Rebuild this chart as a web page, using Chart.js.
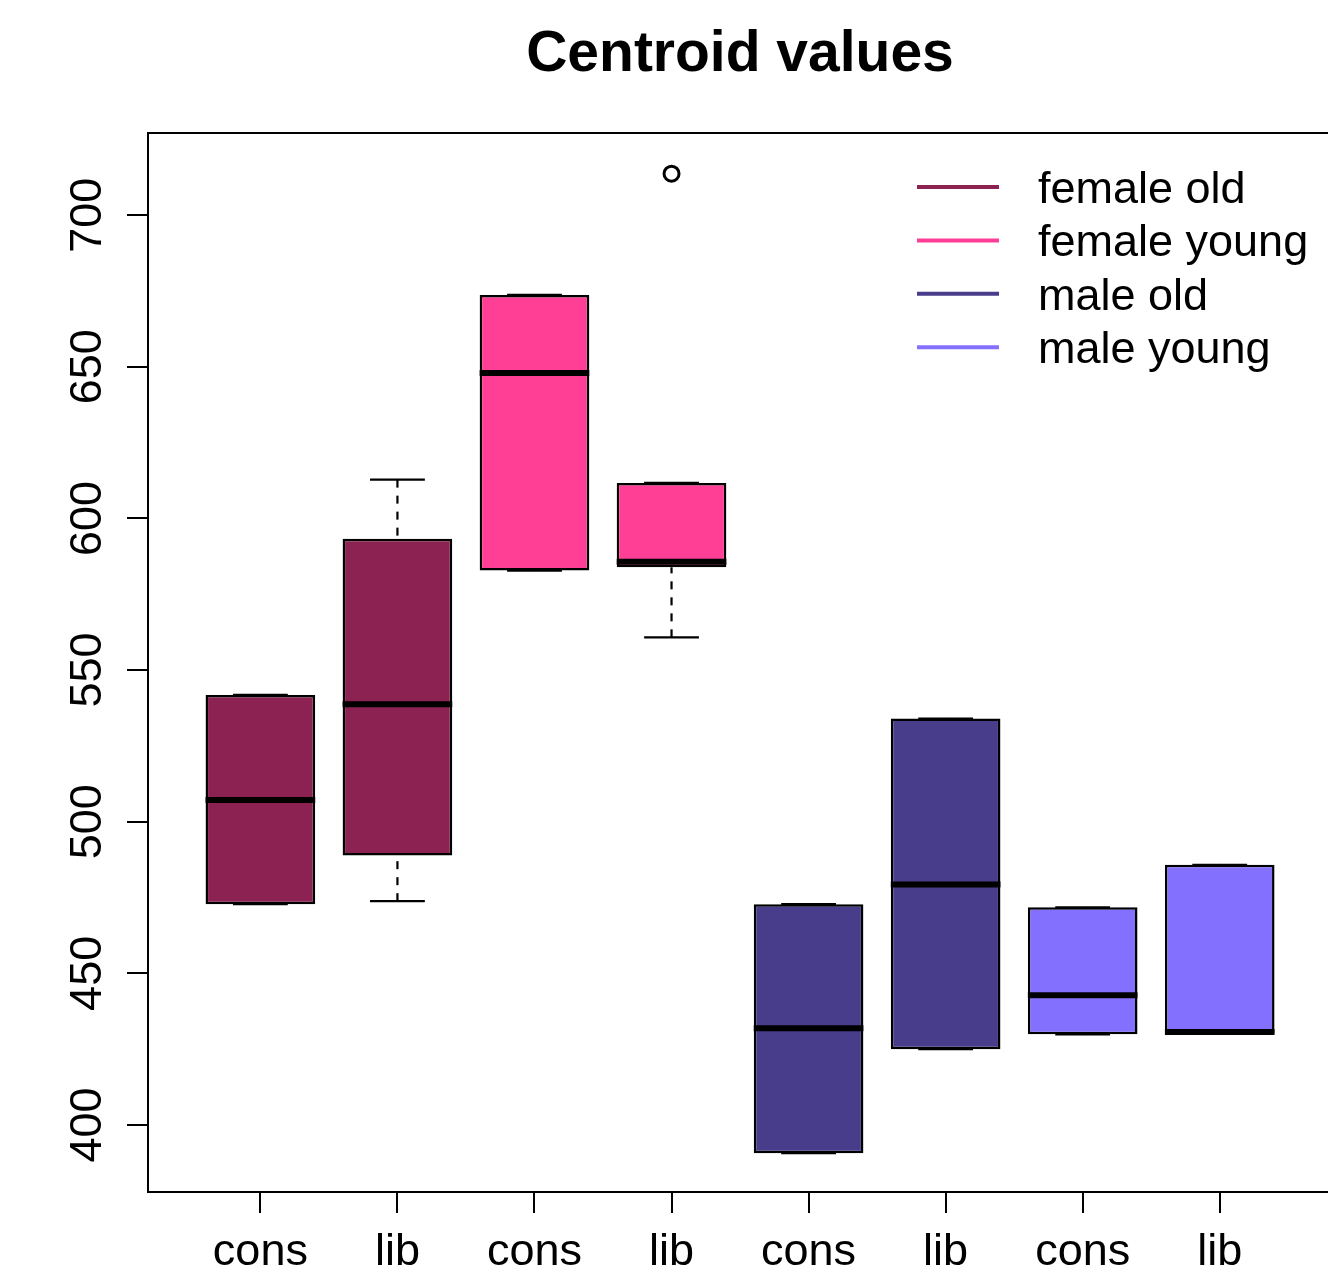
<!DOCTYPE html>
<html>
<head>
<meta charset="utf-8">
<title>Centroid values</title>
<script src="https://cdn.jsdelivr.net/npm/chart.js@4.4.1/dist/chart.umd.min.js"></script>
<style>
  body { margin: 0; background: #fff; }
  canvas { display: block; }
</style>
</head>
<body>
<canvas id="boxChart" width="1328" height="1284"></canvas>
<script>
// Datos (un valor por caja)
const xLabels = ['cons', 'lib', 'cons', 'lib', 'cons', 'lib', 'cons', 'lib'];
const groupNames = ['female old', 'female young', 'male old', 'male young'];
const groupColors = ['#8B2252', '#FF3E96', '#483D8B', '#8470FF'];

const lowerWhisker = [472.8, 473.8, 582.8, 560.8, 390.7, 425.0, 429.9, 430.2];
const q1 = [472.8, 488.9, 582.8, 583.9, 390.7, 425.0, 429.9, 430.2];
const medians = [507.2, 538.7, 648.0, 585.7, 431.9, 479.3, 442.8, 430.7];
const q3 = [541.8, 593.3, 673.7, 611.7, 472.8, 534.0, 471.8, 485.8];
const upperWhisker = [541.8, 612.8, 673.7, 611.7, 472.8, 534.0, 471.8, 485.8];

const outlierX = [4];
const outlierY = [713.7];

const yTicks = [400, 450, 500, 550, 600, 650, 700];

const FONT = "'Liberation Sans', Arial, Helvetica, sans-serif";
const TEXT_SIZE = 45;
Chart.defaults.font.family = FONT;
Chart.defaults.color = '#000';

// Caja i -> elemento de barra del dataset de su grupo
function boxElement(chart, i) {
  const meta = chart.getDatasetMeta(Math.floor(i / 2));
  return meta.data[i % 2];
}

// Bigotes y remates (antes de las cajas, como en R) y medianas (después)
const whiskerPlugin = {
  id: 'whiskers',
  beforeDatasetsDraw(chart) {
    const ctx = chart.ctx;
    const y = chart.scales.y;
    ctx.save();
    ctx.strokeStyle = '#000';
    ctx.lineWidth = 2.2;
    xLabels.forEach((_, i) => {
      const el = boxElement(chart, i);
      const half = el.width / 2;
      const pairs = [[lowerWhisker[i], q1[i]], [upperWhisker[i], q3[i]]];
      pairs.forEach(([w, h]) => {
        const wy = y.getPixelForValue(w);
        const hy = y.getPixelForValue(h);
        ctx.setLineDash([8, 8]);
        ctx.beginPath();
        ctx.moveTo(el.x, wy);
        ctx.lineTo(el.x, hy);
        ctx.stroke();
        ctx.setLineDash([]);
        ctx.beginPath();
        ctx.moveTo(el.x - half / 2, wy);
        ctx.lineTo(el.x + half / 2, wy);
        ctx.stroke();
      });
    });
    ctx.restore();
  },
  afterDatasetsDraw(chart) {
    const ctx = chart.ctx;
    const y = chart.scales.y;
    ctx.save();
    ctx.strokeStyle = '#000';
    ctx.lineWidth = 6;
    ctx.lineCap = 'butt';
    medians.forEach((m, i) => {
      const el = boxElement(chart, i);
      const my = y.getPixelForValue(m);
      ctx.beginPath();
      ctx.moveTo(el.x - el.width / 2, my);
      ctx.lineTo(el.x + el.width / 2, my);
      ctx.stroke();
    });
    ctx.restore();
  }
};

// Marco, título, etiquetas del eje Y y leyenda
const framePlugin = {
  id: 'frame',
  afterDraw(chart) {
    const ctx = chart.ctx;
    const area = chart.chartArea;
    const y = chart.scales.y;
    ctx.save();
    ctx.strokeStyle = '#000';
    ctx.lineWidth = 2;
    ctx.strokeRect(area.left, area.top, area.right - area.left + 6, area.bottom - area.top);

    // Título
    ctx.fillStyle = '#000';
    ctx.font = 'bold 57px ' + FONT;
    ctx.textAlign = 'center';
    ctx.textBaseline = 'alphabetic';
    ctx.fillText('Centroid values', (area.left + area.right) / 2 + 2, 71);

    // Etiquetas del eje Y giradas
    ctx.font = TEXT_SIZE + 'px ' + FONT;
    yTicks.forEach(v => {
      ctx.save();
      ctx.translate(area.left - 47, y.getPixelForValue(v));
      ctx.rotate(-Math.PI / 2);
      ctx.fillText(String(v), 0, 0);
      ctx.restore();
    });

    // Leyenda
    ctx.textAlign = 'left';
    groupNames.forEach((name, g) => {
      const ly = area.top + 54 + g * 53.4;
      ctx.strokeStyle = groupColors[g];
      ctx.lineWidth = 4;
      ctx.beginPath();
      ctx.moveTo(917, ly);
      ctx.lineTo(999, ly);
      ctx.stroke();
      ctx.fillStyle = '#000';
      ctx.fillText(name, 1038, ly + 16);
    });
    ctx.restore();
  }
};

const boxDatasets = groupNames.map((name, g) => ({
  type: 'bar',
  label: name,
  data: [2 * g, 2 * g + 1].map(i => ({ x: i + 1, y: [q1[i], q3[i]] })),
  backgroundColor: groupColors[g],
  borderColor: '#000',
  borderWidth: 2.5,
  borderSkipped: false,
  grouped: false,
  categoryPercentage: 1,
  barPercentage: 0.8
}));

const outlierDataset = {
  type: 'scatter',
  label: 'outliers',
  data: outlierX.map((x, k) => ({ x: x, y: outlierY[k] })),
  pointRadius: 7.5,
  pointBorderWidth: 3,
  pointBorderColor: '#000',
  pointBackgroundColor: 'rgba(0,0,0,0)'
};

const chart = new Chart(document.getElementById('boxChart').getContext('2d'), {
  type: 'bar',
  data: { datasets: [...boxDatasets, outlierDataset] },
  plugins: [whiskerPlugin, framePlugin],
  options: {
    responsive: false,
    animation: false,
    layout: { autoPadding: false, padding: { top: 133, right: 0, bottom: 0, left: 0 } },
    plugins: {
      legend: { display: false },
      title: { display: false },
      tooltip: { enabled: false }
    },
    scales: {
      x: {
        type: 'linear',
        min: 0.18,
        max: 8.79,
        offset: false,
        afterBuildTicks: scale => { scale.ticks = xLabels.map((_, i) => ({ value: i + 1 })); },
        afterFit: scale => {
          scale.height = 92;
          scale.paddingLeft = 0;
          scale.paddingRight = 0;
        },
        border: { display: false },
        grid: { offset: false, drawOnChartArea: false, drawTicks: true, tickLength: 21, color: '#000', lineWidth: 2 },
        ticks: {
          autoSkip: false,
          maxRotation: 0,
          padding: 13,
          font: { size: TEXT_SIZE },
          color: '#000',
          callback: (value, index) => xLabels[index]
        }
      },
      y: {
        type: 'linear',
        min: 377.9,
        max: 727.1,
        afterBuildTicks: scale => { scale.ticks = yTicks.map(v => ({ value: v })); },
        afterFit: scale => { scale.width = 148; },
        border: { display: false },
        grid: { drawOnChartArea: false, drawTicks: true, tickLength: 21, color: '#000', lineWidth: 2 },
        ticks: { display: false }
      }
    }
  }
});
</script>
</body>
</html>
